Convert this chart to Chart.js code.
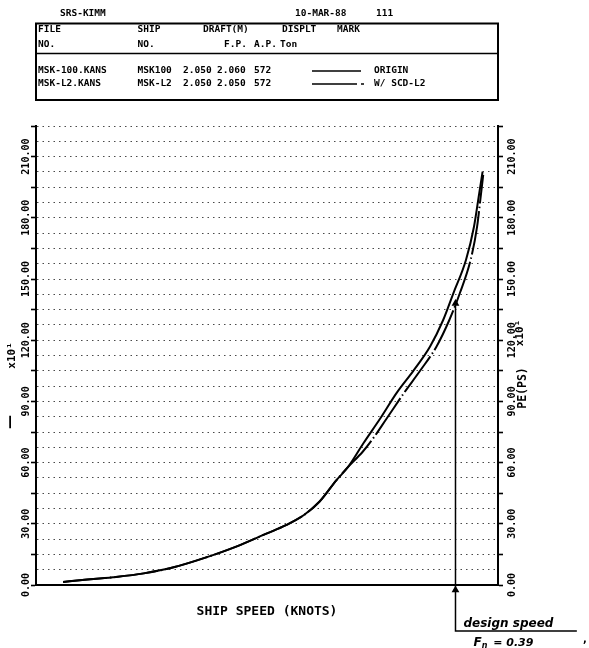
<!DOCTYPE html>
<html><head><meta charset="utf-8">
<script src="https://cdn.jsdelivr.net/npm/chart.js@4.4.1/dist/chart.umd.min.js"></script>
<style>html,body{margin:0;padding:0;background:#fff;}#wrap{position:relative;width:589px;height:648px;}</style>
</head><body><div id="wrap"><canvas id="c" width="589" height="648"></canvas></div>
<script>
// ---- data ----
const speedOrigin = [4.38, 5.0, 6.0, 7.0, 8.0, 9.0, 10.0, 11.0, 11.6, 12.2, 12.7, 13.25, 13.64, 14.13, 14.67, 15.21, 15.75, 16.29, 16.72, 17.05, 17.46, 17.72, 17.89, 18.0];
const peOrigin    = [1.5, 2.4, 3.8, 5.7, 8.8, 13.4, 18.8, 25.3, 29.2, 34.3, 40.8, 51.3, 58.0, 69.5, 81.5, 94.2, 105.0, 116.8, 129.9, 143.0, 159.3, 175.6, 192.0, 202.6];
const speedScd = [4.38, 5.0, 6.0, 7.0, 8.0, 9.0, 10.0, 11.0, 11.6, 12.2, 12.7, 13.25, 13.64, 14.1, 14.38, 14.88, 15.45, 15.97, 16.5, 16.92, 17.26, 17.61, 17.82, 17.95, 18.02];
const peScd    = [1.5, 2.4, 3.8, 5.7, 8.8, 13.4, 18.8, 25.3, 29.2, 34.3, 40.8, 51.3, 58.0, 65.2, 70.5, 81.5, 94.2, 105.0, 116.8, 129.9, 143.0, 159.3, 175.6, 192.0, 201.0];
const designSpeed = 17.12;
const designPE = 138;
const designLineSpeed = [designSpeed, designSpeed, designSpeed, 21.06];
const designLinePE    = [designPE, -2.5, -22.5, -22.5];
const xLabelValues = [4, 6, 8, 10, 12, 14, 16, 18];
const yLabelValues = [0, 30, 60, 90, 120, 150, 180, 210];
const fileNames = ['MSK-100.KANS', 'MSK-L2.KANS'];
const shipNames = ['MSK100', 'MSK-L2'];
const draftFP = ['2.050', '2.050'];
const draftAP = ['2.060', '2.050'];
const displ = ['572', '572'];
const marks = ['ORIGIN', 'W/ SCD-L2'];

const MONO = "'DejaVu Sans Mono', monospace";
const TICK_FONT = {family: MONO, size: 10, weight: 'bold'};
const meas = document.createElement('canvas').getContext('2d');
meas.font = "bold 10px " + MONO;
const W = meas.measureText('210.00').width;

function yAxis(pos, pad) {
  return {
    type: 'linear', position: pos, min: 0, max: 225,
    afterFit: s => { s.width = 30; },
    border: {display: true, color: '#000', width: 2, dash: [1.5, 4]},
    grid: {
      display: true, drawOnChartArea: pos === 'left', drawTicks: true, tickLength: 5,
      color: '#4a4a4a', lineWidth: 1, tickWidth: 1.6,
      tickColor: c => (c.tick && c.tick.value % 15 === 0) ? '#000' : 'rgba(0,0,0,0)'
    },
    ticks: {
      stepSize: 7.5, autoSkip: false, minRotation: 90, maxRotation: 90,
      crossAlign: 'center', padding: pad, color: '#000', font: TICK_FONT,
      callback: v => yLabelValues.includes(v) ? v.toFixed(2) : ''
    },
    title: pos === 'left' ? {display: true, text: 'x10¹', color: '#000',
      font: {family: MONO, size: 11, weight: 'bold'}, padding: {top: 0, bottom: 0}} : {display: false}
  };
}

function rotText(ctx, txt, x, y, font) {
  ctx.save(); ctx.translate(x, y); ctx.rotate(-Math.PI / 2);
  ctx.font = font; ctx.textAlign = 'center'; ctx.textBaseline = 'middle';
  ctx.fillText(txt, 0, 0); ctx.restore();
}

const headerPlugin = {
  id: 'header',
  afterDraw(chart) {
    const ctx = chart.ctx;
    const L = chart.chartArea.left, R = chart.chartArea.right;
    const HF = "bold 9.5px " + MONO;
    ctx.save();
    ctx.fillStyle = '#000'; ctx.strokeStyle = '#000';
    ctx.font = HF; ctx.textBaseline = 'middle'; ctx.textAlign = 'left';
    ctx.fillText('SRS-KIMM', 60, 13.5);
    ctx.fillText('10-MAR-88', 295, 13.5);
    ctx.fillText('111', 376, 13.5);
    ctx.lineWidth = 2;
    ctx.strokeRect(L, 23.5, R - L, 76.5);
    ctx.lineWidth = 1.5;
    ctx.beginPath(); ctx.moveTo(L, 53.5); ctx.lineTo(R, 53.5); ctx.stroke();
    [['FILE', 38], ['SHIP', 137.5], ['DRAFT(M)', 203], ['DISPLT', 282], ['MARK', 337]].forEach(t => ctx.fillText(t[0], t[1], 29.5));
    [['NO.', 38], ['NO.', 137.5], ['F.P.', 224], ['A.P.', 254], ['Ton', 280]].forEach(t => ctx.fillText(t[0], t[1], 45));
    const rowY = [71, 84];
    for (let i = 0; i < 2; i++) {
      const y = rowY[i];
      ctx.fillText(fileNames[i], 38, y);
      ctx.fillText(shipNames[i], 137.5, y);
      ctx.fillText(draftFP[i], 183, y);
      ctx.fillText(draftAP[i], 217, y);
      ctx.fillText(displ[i], 254, y);
      ctx.fillText(marks[i], 374, y);
      ctx.lineWidth = 1.5;
      ctx.beginPath();
      if (i === 0) { ctx.moveTo(312, y); ctx.lineTo(361, y); }
      else { ctx.moveTo(312, y); ctx.lineTo(357, y); ctx.moveTo(361, y); ctx.lineTo(364, y); }
      ctx.stroke();
    }
    // right axis title
    const y2 = chart.scales.y2;
    rotText(ctx, 'PE(PS)', y2.left + 25.5, 388, "bold 11.5px " + MONO);
    rotText(ctx, 'x10¹', y2.left + 22, 333, "bold 11px " + MONO);
    rotText(ctx, '—', 10, 422, "bold 14px 'DejaVu Sans', sans-serif");
    // design speed annotation
    const xs = chart.scales.x, ys = chart.scales.y;
    const xd = xs.getPixelForValue(designSpeed);
    const yl = ys.getPixelForValue(-22.5);
    ctx.textBaseline = 'alphabetic';
    ctx.font = "italic bold 12px 'DejaVu Sans', sans-serif";
    ctx.fillText('design speed', xd + 8, yl - 4);
    ctx.fillText('F', xd + 18, yl + 15);
    const fw = ctx.measureText('F').width;
    ctx.font = "italic bold 8px 'DejaVu Sans', sans-serif";
    ctx.fillText('n', xd + 18 + fw, yl + 17);
    const nw = ctx.measureText('n').width;
    ctx.font = "italic bold 11px 'DejaVu Sans', sans-serif";
    ctx.fillText(' = 0.39', xd + 20 + fw + nw, yl + 15);
    ctx.font = "bold 10px 'DejaVu Sans', sans-serif";
    ctx.fillText(',', 583, yl + 11);
    ctx.restore();
  }
};

new Chart(document.getElementById('c'), {
  type: 'line',
  data: {
    datasets: [
      {label: marks[0], data: speedOrigin.map((s, i) => ({x: s, y: peOrigin[i]})),
       borderColor: '#000', borderWidth: 2, pointRadius: 0, tension: 0.4,
       cubicInterpolationMode: 'monotone', fill: false, yAxisID: 'y'},
      {label: marks[1], data: speedScd.map((s, i) => ({x: s, y: peScd[i]})),
       borderColor: '#000', borderWidth: 2, borderDash: [44, 3, 1.5, 3], pointRadius: 0, tension: 0.4,
       cubicInterpolationMode: 'monotone', fill: false, yAxisID: 'y'},
      {label: 'design speed', data: designLineSpeed.map((s, i) => ({x: s, y: designLinePE[i]})),
       borderColor: '#000', borderWidth: 1.5, tension: 0, pointRadius: [3, 3, 0, 0],
       pointStyle: 'triangle', pointBackgroundColor: '#000', pointBorderColor: '#000',
       fill: false, clip: false, yAxisID: 'y'}
    ]
  },
  options: {
    responsive: false, animation: false, events: [],
    layout: {padding: {left: 6, right: 61, top: 126, bottom: 23}},
    plugins: {legend: {display: false}, tooltip: {enabled: false}},
    scales: {
      x: {
        type: 'linear', position: 'bottom', min: 3.5, max: 18.5,
        afterFit: s => { s.height = 40; },
        border: {display: true, color: '#000', width: 2},
        grid: {display: true, drawOnChartArea: false, drawTicks: true, tickLength: 5, tickWidth: 1.6,
          tickColor: c => (c.tick && Number.isInteger(c.tick.value)) ? '#000' : 'rgba(0,0,0,0)'},
        ticks: {stepSize: 1, autoSkip: false, maxRotation: 0, minRotation: 0, padding: 1,
          color: '#000', font: TICK_FONT,
          callback: v => xLabelValues.includes(v) ? v.toFixed(2) : ''},
        title: {display: true, text: 'SHIP SPEED (KNOTS)', color: '#000',
          font: {family: MONO, size: 13, weight: 'bold'}, padding: {top: 0, bottom: 6}}
      },
      y: yAxis('left', 5 - W / 2),
      y2: yAxis('right', 9.5 - W / 2)
    }
  },
  plugins: [headerPlugin]
});
</script></body></html>
